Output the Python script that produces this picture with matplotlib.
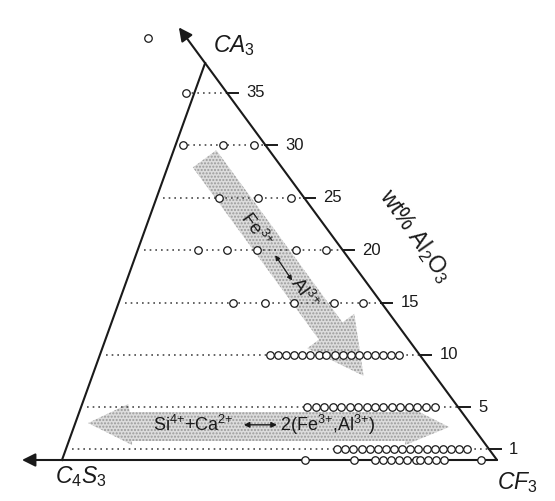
import matplotlib
matplotlib.use("Agg")
import matplotlib.pyplot as plt
from matplotlib.patches import Polygon, FancyArrowPatch

plt.rcParams['font.family'] = ['Liberation Sans', 'DejaVu Sans']
plt.rcParams['mathtext.fontset'] = 'custom'
plt.rcParams['mathtext.rm'] = 'Liberation Sans'
plt.rcParams['mathtext.it'] = 'Liberation Sans:italic'
plt.rcParams['mathtext.bf'] = 'Liberation Sans:bold'
plt.rcParams['hatch.linewidth'] = 1.0

# Horizontal coordinate: position along the C4S3 -> CF3 join (0 .. 100)
# Vertical coordinate: wt% Al2O3
apex_pos, apex_al = 32.9, 37.8          # CA3 corner
tick_values = [35, 30, 25, 20, 15, 10, 5, 1]
tick_labels = ['35', '30', '25', '20', '15', '10', '5', '1']

# Compositions, grouped by Al2O3 level
row_40 = [19.8]
row_35 = [28.5]
row_30 = [27.8, 37.0, 44.1]
row_25 = [36.1, 45.1, 52.6]
row_20 = [31.3, 37.9, 44.8, 53.8, 60.7]
row_15 = [39.3, 46.7, 53.3, 62.5, 69.2]
row_10 = [47.8, 49.7, 51.5, 53.4, 55.2, 57.1, 59.0, 60.8, 62.7, 64.5,
          66.4, 68.3, 70.1, 72.0, 73.8, 75.7, 77.5]
row_5 = [56.3, 58.3, 60.2, 62.2, 64.1, 66.1, 68.0, 70.0, 72.0, 73.9,
         75.9, 77.8, 79.8, 81.7, 83.7, 85.7]
row_1 = [63.2, 65.1, 67.0, 68.9, 70.7, 72.6, 74.5, 76.3, 78.2, 80.1,
         81.9, 83.8, 85.7, 87.5, 89.4, 91.3, 93.1]
row_0 = [55.9, 67.1, 72.0, 73.8, 75.6, 77.5, 79.3, 81.4, 82.3, 84.1,
         86.0, 87.8, 96.3]
rows = {40.2: row_40, 35: row_35, 30: row_30, 25: row_25, 20: row_20,
        15: row_15, 10: row_10, 5: row_5, 1: row_1, 0: row_0}


def left_edge(al):
    return apex_pos * al / apex_al


def right_edge(al):
    return 100 - (100 - apex_pos) * al / apex_al


fig = plt.figure(figsize=(5.55, 5.01), dpi=100)
ax = fig.add_axes([0, 0, 1, 1])
ax.set_xlim(-14.25, 113.33)
ax.set_ylim(-3.905, 43.81)
ax.axis('off')

ink = '#1a1a1a'
dot_col = '#4a4a4a'

# shaded substitution arrows
shade_face = '#dcdcdc'
shade_hatch = '#9a9a9a'
diag = FancyArrowPatch((32.4, 28.9), (69.7, 7.8),
                       arrowstyle='simple,head_length=4.0,head_width=4.2,tail_width=2.1',
                       mutation_scale=10, facecolor=shade_face,
                       edgecolor=shade_hatch, hatch='.....', lw=0, zorder=1)
ax.add_patch(diag)

horiz = Polygon([(6.0, 3.52), (15.2, 5.33), (15.6, 4.57), (78.9, 4.57),
                 (78.9, 5.24), (89.0, 3.14), (78.9, 1.43), (78.9, 1.81),
                 (16.1, 1.81), (16.1, 1.43)], closed=True,
                facecolor=shade_face, edgecolor=shade_hatch, hatch='.....',
                lw=0, zorder=1)
ax.add_patch(horiz)

# dotted guide lines and ticks
for val, lab in zip(tick_values, tick_labels):
    xr = right_edge(val)
    start = left_edge(val) + 1.4
    if rows[val]:
        start = min(start, min(rows[val]))
    ax.plot([start, xr], [val, val], color=dot_col, lw=1.2,
            linestyle=(0, (1, 2.4)), zorder=2)
    ax.plot([xr, xr + 2.6], [val, val], color=ink, lw=1.4, zorder=3)
    ax.text(xr + 4.5, val, lab, fontsize=12, ha='left', va='center',
            color=ink)

# triangle sides
ax.plot([0, apex_pos], [0, apex_al], color=ink, lw=1.5, zorder=3)
ax.annotate('', xy=(right_edge(41.2), 41.2), xytext=(100, 0),
            arrowprops=dict(arrowstyle='-|>', color=ink, lw=1.5,
                            mutation_scale=20, shrinkA=0, shrinkB=0),
            zorder=3)
ax.annotate('', xy=(-9.2, 0), xytext=(100, 0),
            arrowprops=dict(arrowstyle='-|>', color=ink, lw=1.5,
                            mutation_scale=20, shrinkA=0, shrinkB=0),
            zorder=3)

# compositions
for al, xs in rows.items():
    ax.plot(xs, [al] * len(xs), linestyle='none', marker='o', ms=5.4,
            mfc='white', mec=ink, mew=0.9, zorder=4)

# corner labels
ax.text(34.7, 39.5, r'$CA_3$', fontsize=16.5, ha='left', va='center', color=ink)
ax.text(-1.6, -1.6, r'$C_4S_3$', fontsize=16.5, ha='left', va='center', color=ink)
ax.text(100.0, -2.15, r'$CF_3$', fontsize=16.5, ha='left', va='center', color=ink)

ax.text(81.3, 21.4, r'wt% Al$_2$O$_3$', fontsize=16.5, rotation=-55,
        rotation_mode='anchor', ha='center', va='center', color=ink)

# substitution labels
ax.text(44.6, 21.9, r'Fe$^{3{+}}$', fontsize=13.5, rotation=-54,
        rotation_mode='anchor', ha='center', va='center', color=ink, zorder=5)
ax.text(55.6, 15.9, r'Al$^{3{+}}$', fontsize=13.5, rotation=-54,
        rotation_mode='anchor', ha='center', va='center', color=ink, zorder=5)
ax.annotate('', xy=(52.9, 17.1), xytext=(49.0, 19.5),
            arrowprops=dict(arrowstyle='<|-|>', color=ink, lw=0.9,
                            mutation_scale=7, shrinkA=0, shrinkB=0), zorder=5)

ax.text(20.9, 3.35, r'Si$^{4{+}}$+Ca$^{2{+}}$', fontsize=13,
        ha='left', va='center', color=ink, zorder=5)
ax.annotate('', xy=(49.4, 3.35), xytext=(41.8, 3.35),
            arrowprops=dict(arrowstyle='<|-|>', color=ink, lw=1.0,
                            mutation_scale=8, shrinkA=0, shrinkB=0), zorder=5)
ax.text(50.1, 3.35, r'2(Fe$^{3{+}}$,Al$^{3{+}}$)', fontsize=13,
        ha='left', va='center', color=ink, zorder=5)

fig.savefig('out.png', dpi=100, facecolor='white')
